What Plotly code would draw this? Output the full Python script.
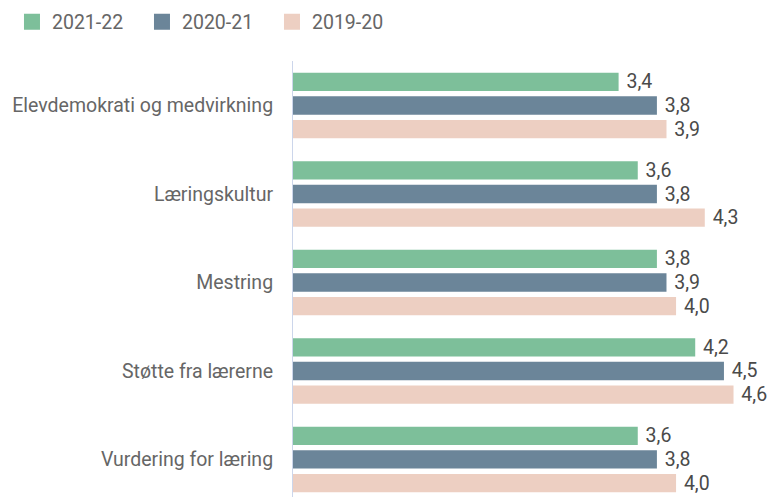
import plotly.graph_objects as go

# ─── Data ────────────────────────────────────────────────────────────────
CATEGORIES = [
    "Elevdemokrati og medvirkning",
    "Læringskultur",
    "Mestring",
    "Støtte fra lærerne",
    "Vurdering for læring",
]
SERIES_NAMES = ["2021-22", "2020-21", "2019-20"]
VALUES_2021_22 = [3.4, 3.6, 3.8, 4.2, 3.6]
VALUES_2020_21 = [3.8, 3.8, 3.9, 4.5, 3.8]
VALUES_2019_20 = [3.9, 4.3, 4.0, 4.6, 4.0]

COLORS = ["#7dbf9a", "#6b8599", "#edcfc2"]
TEXT_COLOR = "#666666"
LABEL_COLOR = "#4a4a4a"
FONT_SIZE = 19.5

fig = go.Figure()

for name, vals, color in zip(
    SERIES_NAMES, [VALUES_2021_22, VALUES_2020_21, VALUES_2019_20], COLORS
):
    # bars — legend handled by marker-only traces below
    fig.add_trace(go.Bar(
        y=CATEGORIES,
        x=vals,
        name=name,
        orientation="h",
        marker=dict(color=color, line=dict(width=0)),
        text=["\u00a0" + f"{v:.1f}".replace(".", ",") for v in vals],
        textposition="outside",
        constraintext="none",
        textfont=dict(size=FONT_SIZE, color=LABEL_COLOR),
        cliponaxis=False,
        showlegend=False,
    ))

# legend entries with bigger square swatches
for name, color in zip(SERIES_NAMES, COLORS):
    fig.add_trace(go.Scatter(
        x=[None], y=[None],
        name=name,
        mode="markers",
        marker=dict(symbol="square", size=16, color=color),
        showlegend=True,
    ))

fig.update_layout(
    width=768,
    height=497,
    barmode="group",
    bargap=0.197,
    bargroupgap=0.228,
    plot_bgcolor="#ffffff",
    paper_bgcolor="#ffffff",
    font=dict(family="Roboto, sans-serif", size=FONT_SIZE, color=TEXT_COLOR),
    margin=dict(l=293, r=0, t=61, b=0, autoexpand=False),
    legend=dict(
        orientation="h",
        xref="container", x=0.0156, xanchor="left",
        yref="container", y=0.9557, yanchor="middle",
        font=dict(size=FONT_SIZE, color=TEXT_COLOR),
        entrywidth=85,
        traceorder="normal",
    ),
    xaxis=dict(
        range=[0, 4.96],
        showgrid=False,
        zeroline=False,
        showticklabels=False,
        showline=False,
    ),
    yaxis=dict(
        range=[4.424, -0.503],
        showgrid=False,
        showline=True,
        linecolor="#ccd6eb",
        linewidth=1,
        ticks="",
        ticklabelstandoff=15,
        automargin=False,
    ),
)

# drop the default 8px body margin so the figure fills the window exactly
fig.write_html(
    "out.html",
    config={"displayModeBar": False},
    post_script="document.body.style.margin = '0';",
)
